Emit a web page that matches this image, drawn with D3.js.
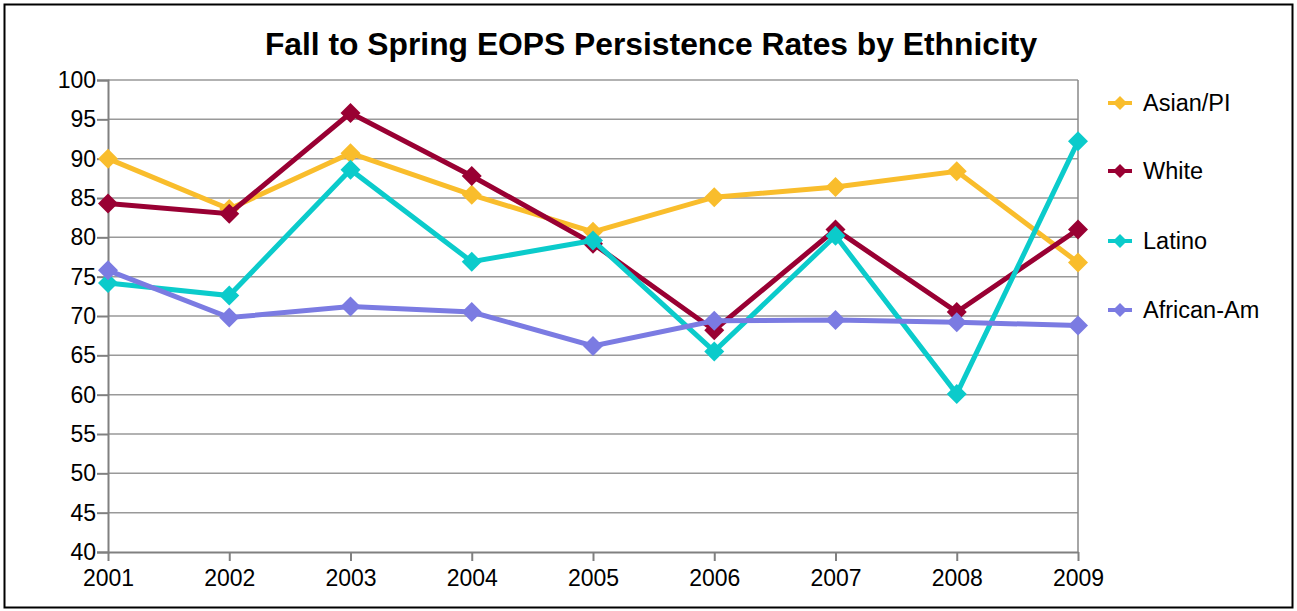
<!DOCTYPE html>
<html><head><meta charset="utf-8">
<script src="https://cdn.jsdelivr.net/npm/d3@7"></script>
<style>body{margin:0;background:#fff}svg{display:block;font-family:"Liberation Sans",Arial,sans-serif}</style>
</head><body><svg id="c" width="1297" height="611"></svg>
<script>
const years = ["2001","2002","2003","2004","2005","2006","2007","2008","2009"];
const seriesNames = ["Asian/PI","White","Latino","African-Am"];
const asianPI = [90.0,83.6,90.7,85.4,80.7,85.1,86.4,88.4,76.8];
const white = [84.3,83.0,95.8,87.8,79.2,68.2,81.0,70.5,81.0];
const latino = [74.2,72.6,88.6,76.9,79.6,65.5,80.2,60.1,92.2];
const africanAm = [75.8,69.8,71.2,70.5,66.2,69.4,69.5,69.2,68.8];
const yTicks = [40,45,50,55,60,65,70,75,80,85,90,95,100];
const colors = ["#f9bd2c","#990033","#0bcbcb","#7b7be2"];
const data = [asianPI, white, latino, africanAm];

const svg = d3.select("#c");
svg.append("rect").attr("x",4.5).attr("y",4.5).attr("width",1288).attr("height",603)
  .attr("fill","#fff").attr("stroke","#000").attr("stroke-width",2);

svg.append("text").attr("x",651).attr("y",55).attr("text-anchor","middle")
  .attr("font-size",31.8).attr("font-weight","bold").text("Fall to Spring EOPS Persistence Rates by Ethnicity");

const x = d3.scalePoint().domain(years).range([108,1078]);
const y = d3.scaleLinear().domain([40,100]).range([552,80]);

svg.append("g").selectAll("line").data(yTicks.filter(t=>t>40)).join("line")
  .attr("x1",108).attr("x2",1078).attr("y1",d=>y(d)).attr("y2",d=>y(d))
  .attr("stroke","#999").attr("stroke-width",1.5);
svg.append("line").attr("x1",1078).attr("x2",1078).attr("y1",80).attr("y2",552)
  .attr("stroke","#888").attr("stroke-width",1.5);

const yAxis = svg.append("g").attr("transform","translate(108,0)")
  .call(d3.axisLeft(y).tickValues(yTicks).tickSize(11).tickPadding(1));
yAxis.selectAll("text").attr("font-size",23).attr("fill","#000").attr("font-family","Liberation Sans, Arial, sans-serif");
yAxis.selectAll("line,path").attr("stroke","#808080").attr("stroke-width",2);

const xAxis = svg.append("g").attr("transform","translate(0,552)")
  .call(d3.axisBottom(x).tickSize(9).tickPadding(9).tickSizeOuter(0));
xAxis.selectAll("text").attr("font-size",23).attr("fill","#000").attr("font-family","Liberation Sans, Arial, sans-serif");
xAxis.selectAll("line,path").attr("stroke","#808080").attr("stroke-width",2);

function diamondPath(r){ return `M0,${-r}L${r},0L0,${r}L${-r},0Z`; }

const line = d3.line().x((d,i)=>x(years[i])).y(d=>y(d));
data.forEach((vals,si)=>{
  const g = svg.append("g");
  g.append("path").datum(vals).attr("d",line).attr("fill","none")
    .attr("stroke",colors[si]).attr("stroke-width",5).attr("stroke-linejoin","miter");
  g.selectAll("path.m").data(vals).join("path").attr("class","m")
    .attr("transform",(d,i)=>`translate(${x(years[i])},${y(d)})`)
    .attr("d",diamondPath(10)).attr("fill",colors[si]);
});

const legY = [103,171,241,310];
seriesNames.forEach((n,i)=>{
  const g = svg.append("g").attr("transform",`translate(1120,${legY[i]})`);
  g.append("line").attr("x1",-12).attr("x2",12).attr("stroke",colors[i]).attr("stroke-width",4);
  g.append("path").attr("d",diamondPath(7)).attr("fill",colors[i]);
  g.append("text").attr("x",23).attr("y",8).attr("font-size",23.5).text(n);
});
</script></body></html>
